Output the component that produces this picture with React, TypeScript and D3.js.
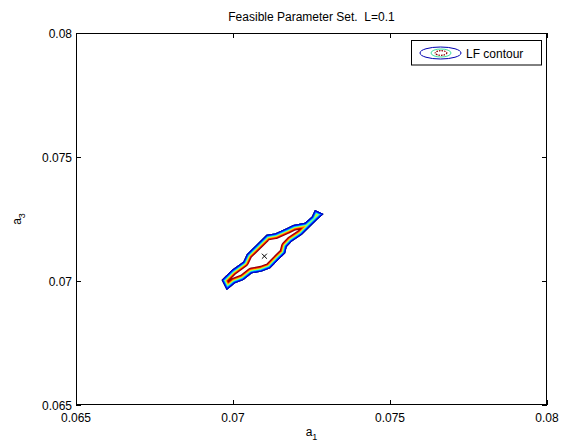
import React from "react";
import * as d3 from "d3";

const W = 561;
const H = 446;

const xTicks = [0.065, 0.07, 0.075, 0.08];
const yTicks = [0.065, 0.07, 0.075, 0.08];
const xTickLabels = ["0.065", "0.07", "0.075", "0.08"];
const yTickLabels = ["0.065", "0.07", "0.075", "0.08"];

// outer boundary of the LF contour region (a1, a3)
const contourA1 = [0.06964, 0.06996, 0.07033, 0.07044, 0.0706, 0.07107, 0.07134, 0.07171, 0.07192, 0.07229, 0.07251, 0.07261, 0.07288, 0.07267, 0.07245, 0.07219, 0.07187, 0.07171, 0.07166, 0.07144, 0.07118, 0.07091, 0.0706, 0.07033, 0.07006, 0.0698];
const contourA3 = [0.07004, 0.07044, 0.07078, 0.07108, 0.07128, 0.07186, 0.07192, 0.07213, 0.07226, 0.07235, 0.07259, 0.07286, 0.0727, 0.07246, 0.07219, 0.07186, 0.07159, 0.07138, 0.07112, 0.07085, 0.07051, 0.07038, 0.07031, 0.07004, 0.06991, 0.06964];

// contour levels, outermost first (jet colormap)
const levelColors = ["#00009f", "#0000ff", "#0060ff", "#00c0ff", "#40ffc0", "#c0ff40", "#ffd000", "#ff6000", "#e00000", "#8f0000"];
const levelDepths = [0.6, 1.2, 1.7, 2.2, 2.7, 3.2, 3.7, 4.2, 4.9, 5.8];

const centerA1 = [0.071];
const centerA3 = [0.071];

const margin = { left: 76, right: 547, top: 33, bottom: 405 };

export default function App() {
  const x = d3.scaleLinear().domain([0.065, 0.08]).range([margin.left, margin.right]);
  const y = d3.scaleLinear().domain([0.065, 0.08]).range([margin.bottom, margin.top]);

  const pts: [number, number][] = contourA1.map((a, i) => [x(a), y(contourA3[i])]);
  const line = d3.line<[number, number]>().curve(d3.curveLinearClosed);
  const pathD = line(pts) || "";

  const font = "'Liberation Sans', Arial, Helvetica, sans-serif";
  const tickLen = 5;

  const levels = levelColors.map((c, i) => ({ c, d: levelDepths[i] }));
  const drawOrder = [...levels].sort((a, b) => b.d - a.d);

  return (
    <svg width={W} height={H} style={{ position: "absolute", left: 0, top: 0, background: "#fff" }} fontFamily={font}>
      <rect x={0} y={0} width={W} height={H} fill="#fff" />
      <defs>
        <clipPath id="inside">
          <path d={pathD} />
        </clipPath>
      </defs>

      {/* contour bands */}
      <g clipPath="url(#inside)">
        {drawOrder.map((l, i) => (
          <path key={i} d={pathD} fill="none" stroke={l.c} strokeWidth={l.d * 2} strokeLinejoin="round" />
        ))}
      </g>

      {/* center marker */}
      {centerA1.map((a, i) => {
        const cx = x(a);
        const cy = y(centerA3[i]);
        const s = 2.5;
        return (
          <g key={i} stroke="#000" strokeWidth={1}>
            <line x1={cx - s} y1={cy - s} x2={cx + s} y2={cy + s} />
            <line x1={cx - s} y1={cy + s} x2={cx + s} y2={cy - s} />
          </g>
        );
      })}

      {/* axes box */}
      <rect x={margin.left + 0.5} y={margin.top + 0.5} width={margin.right - margin.left - 1} height={margin.bottom - margin.top - 1} fill="none" stroke="#000" strokeWidth={1} />

      {/* ticks */}
      {xTicks.map((t, i) => {
        const px = Math.round(x(t)) + 0.5;
        return (
          <g key={"xt" + i}>
            <line x1={px} x2={px} y1={margin.bottom} y2={margin.bottom - tickLen} stroke="#000" />
            <line x1={px} x2={px} y1={margin.top} y2={margin.top + tickLen} stroke="#000" />
            <text x={x(t)} y={422} fontSize={12} textAnchor="middle" fill="#000">{xTickLabels[i]}</text>
          </g>
        );
      })}
      {yTicks.map((t, i) => {
        const py = Math.round(y(t)) + 0.5;
        return (
          <g key={"yt" + i}>
            <line x1={margin.left} x2={margin.left + tickLen} y1={py} y2={py} stroke="#000" />
            <line x1={margin.right} x2={margin.right - tickLen} y1={py} y2={py} stroke="#000" />
            <text x={72} y={y(t) + 4.5} fontSize={12} textAnchor="end" fill="#000">{yTickLabels[i]}</text>
          </g>
        );
      })}

      {/* title */}
      <text x={(margin.left + margin.right) / 2} y={21} fontSize={12} textAnchor="middle" fill="#000" style={{ whiteSpace: "pre" }}>
        Feasible Parameter Set.  L=0.1
      </text>

      {/* x label */}
      <text x={(margin.left + margin.right) / 2} y={436} fontSize={12} textAnchor="middle" fill="#000">
        a<tspan fontSize={9} dy={4}>1</tspan>
      </text>

      {/* y label */}
      <text transform={`translate(21, ${(margin.top + margin.bottom) / 2}) rotate(-90)`} fontSize={12} textAnchor="middle" fill="#000">
        a<tspan fontSize={9} dy={4}>3</tspan>
      </text>

      {/* legend */}
      <rect x={411.5} y={40.5} width={130} height={24.5} fill="#fff" stroke="#000" strokeWidth={1} />
      <ellipse cx={440.5} cy={53} rx={20.5} ry={6} fill="none" stroke="#0000b0" strokeWidth={1} />
      <ellipse cx={441} cy={53} rx={10} ry={4} fill="none" stroke="#40e0a0" strokeWidth={1} />
      <ellipse cx={441} cy={53} rx={5.8} ry={2.3} fill="none" stroke="#8f0000" strokeWidth={1.2} strokeDasharray="1.5 1" />
      <text x={466} y={57.5} fontSize={12} fill="#000">LF contour</text>
    </svg>
  );
}
